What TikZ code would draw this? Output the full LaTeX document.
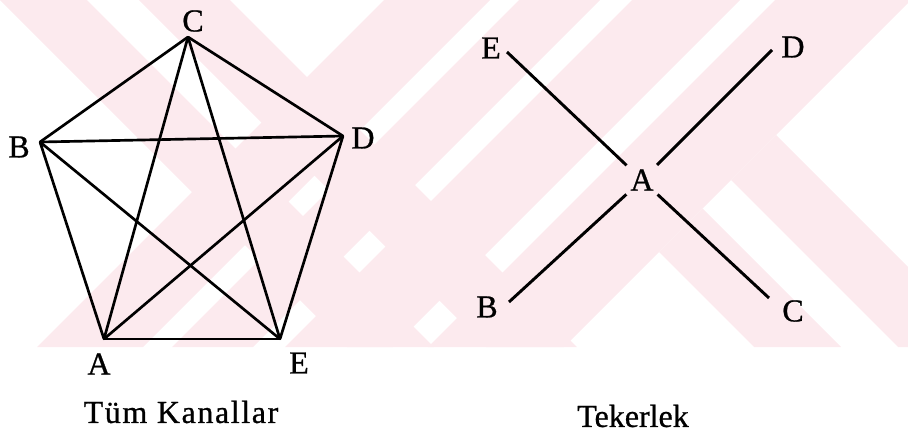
\documentclass[tikz,border=0pt]{standalone}
\usepackage{fontspec}
\setmainfont{Liberation Serif}
\newfontfamily\scanfont{Liberation Serif}[FakeBold=0.8]
\definecolor{markpink}{HTML}{FCEAEE}
\tikzset{
  vertex/.style={inner sep=0pt, minimum size=0pt},
  link/.style={line width=2pt, line cap=round, draw=black},
  spoke/.style={line width=2.2pt, draw=black},
  lbl/.style={font=\scanfont\fontsize{24}{28}\selectfont, inner sep=0pt},
  caption/.style={font=\scanfont\fontsize{24}{28}\selectfont, inner sep=0pt},
  hubnode/.style={circle, minimum size=31.5pt, inner sep=0pt, font=\scanfont\fontsize{24}{28}\selectfont},
  band/.style={fill=markpink, draw=none}
}
\begin{document}
\begin{tikzpicture}[x=0.75pt, y=-0.75pt]
\useasboundingbox (0,0) rectangle (908,436);
\begin{scope}
\clip (0,0) rectangle (908,347);
\fill[band] (0,0) -- (87,0) -- (434,347) -- (347,347) -- cycle;
\fill[band] (139,0) -- (230,0) -- (577,347) -- (486,347) -- cycle;
\fill[band] (384,0) -- (490,0) -- (143,347) -- (37,347) -- cycle;
\fill[band] (519,0) -- (600,0) -- (253,347) -- (172,347) -- cycle;
\fill[band] (632,0) -- (740,0) -- (393,347) -- (285,347) -- cycle;
\fill[band] (775,0) -- (911,0) -- (564,347) -- (428,347) -- cycle;
\clip (911,0) -- (1300,0) -- (1300,347) -- (564,347) -- cycle;
\fill[band] (407,0) -- (494,0) -- (841,347) -- (754,347) -- cycle;
\fill[band] (551,0) -- (641,0) -- (988,347) -- (898,347) -- cycle;
\end{scope}

\node[vertex] (C) at (188,37) {};
\node[vertex] (B) at (40,142) {};
\node[vertex] (D) at (343,136) {};
\node[vertex] (A) at (104,339) {};
\node[vertex] (E) at (280,339) {};
\node[lbl] at (193,21) {C};
\node[lbl] at (19,147) {B};
\node[lbl] at (363,138) {D};
\node[lbl] at (99,364) {A};
\node[lbl] at (299,363) {E};
\draw[link] (C) -- (B);
\draw[link] (C) -- (D);
\draw[link] (C) -- (A);
\draw[link] (C) -- (E);
\draw[link] (B) -- (D);
\draw[link] (B) -- (A);
\draw[link] (B) -- (E);
\draw[link] (D) -- (A);
\draw[link] (D) -- (E);
\draw[link] (A) -- (E);
\node[caption] at (181,412) {\addfontfeature{LetterSpace=5}Tüm Kanallar};

\node[hubnode] (hub) at (642,180) {A};
\coordinate (wE) at (507,52);
\coordinate (wD) at (772,50);
\coordinate (wB) at (509,302);
\coordinate (wC) at (769,298);
\node[lbl] at (491,48) {E};
\node[lbl] at (793,47) {D};
\node[lbl] at (487,307) {B};
\node[lbl] at (793,311) {C};
\draw[spoke] (hub) -- (wE);
\draw[spoke] (hub) -- (wD);
\draw[spoke] (hub) -- (wB);
\draw[spoke] (hub) -- (wC);
\node[caption] at (633,416) {Tekerlek};
\end{tikzpicture}
\end{document}
